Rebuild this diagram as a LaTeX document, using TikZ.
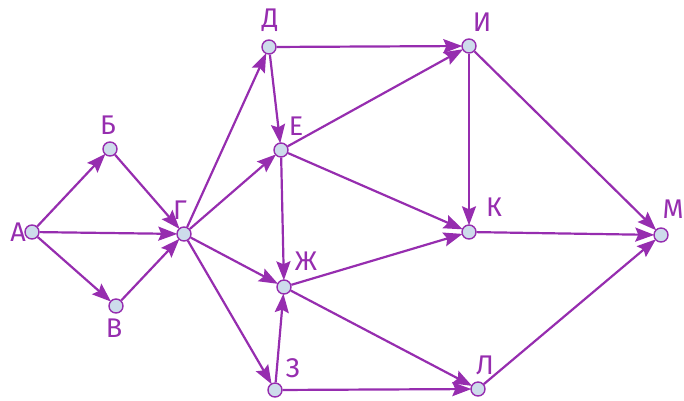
\documentclass[tikz,border=0pt]{standalone}
\usepackage{fontspec}
\setmainfont{Fira Sans}
\usetikzlibrary{arrows.meta,positioning}
\definecolor{grafline}{RGB}{150,45,175}
\definecolor{vertfill}{RGB}{205,220,235}

\begin{document}
\begin{tikzpicture}[x=1pt, y=-1pt, >={Stealth[length=19pt,width=14pt,inset=3pt]}]
        \useasboundingbox (0,0) rectangle (684,400);
        \tikzset{vert/.style={circle, draw=grafline, fill=vertfill, line width=1.4pt, inner sep=0pt, minimum size=14pt},
                 lbl/.style={text=grafline, font=\fontsize{27}{29}\selectfont, inner sep=0pt},
                 edge/.style={->, draw=grafline, line width=2.2pt, shorten >=-1pt}}

        % vertices
        \node[vert] (A) at (32,232) {};
        \node[vert] (B) at (110,149) {};
        \node[vert] (V) at (116,306) {};
        \node[vert] (G) at (184,234) {};
        \node[vert] (D) at (269,47) {};
        \node[vert] (E) at (281,150) {};
        \node[vert] (Zh) at (284,287) {};
        \node[vert] (Z) at (275,390) {};
        \node[vert] (I) at (469,46) {};
        \node[vert] (K) at (469,232) {};
        \node[vert] (L) at (478,389) {};
        \node[vert] (M) at (661,235) {};

        % labels
        \node[lbl, xshift=-14pt] (lA) at (A) {А};
        \node[lbl, xshift=-2pt, yshift=24pt] (lB) at (B) {Б};
        \node[lbl, xshift=-2pt, yshift=-22pt] (lV) at (V) {В};
        \node[lbl, xshift=-4pt, yshift=24pt] (lG) at (G) {Г};
        \node[lbl, xshift=1pt, yshift=27pt] (lD) at (D) {Д};
        \node[lbl, xshift=15pt, yshift=24pt] (lE) at (E) {Е};
        \node[lbl, xshift=22pt, yshift=26pt] (lZh) at (Zh) {Ж};
        \node[lbl, xshift=18pt, yshift=22pt] (lZ) at (Z) {З};
        \node[lbl, xshift=13pt, yshift=24pt] (lI) at (I) {И};
        \node[lbl, xshift=25pt, yshift=25pt] (lK) at (K) {К};
        \node[lbl, xshift=7pt, yshift=24pt] (lL) at (L) {Л};
        \node[lbl, xshift=12pt, yshift=26pt] (lM) at (M) {М};

        % edges
        \draw[edge] (A) -- (B);
        \draw[edge] (A) -- (G);
        \draw[edge] (A) -- (V);
        \draw[edge] (B) -- (G);
        \draw[edge] (V) -- (G);

        \draw[edge] (G) -- (D);
        \draw[edge] (G) -- (E);
        \draw[edge] (G) -- (Zh);
        \draw[edge] (G) -- (Z);

        \draw[edge] (D) -- (I);
        \draw[edge] (D) -- (E);
        \draw[edge] (E) -- (I);
        \draw[edge] (E) -- (K);
        \draw[edge] (E) -- (Zh);

        \draw[edge] (Zh) -- (K);
        \draw[edge] (Zh) -- (L);
        \draw[edge] (Z) -- (Zh);
        \draw[edge] (Z) -- (L);

        \draw[edge] (I) -- (K);
        \draw[edge] (I) -- (M);
        \draw[edge] (K) -- (M);
        \draw[edge] (L) -- (M);

\end{tikzpicture}
\end{document}
